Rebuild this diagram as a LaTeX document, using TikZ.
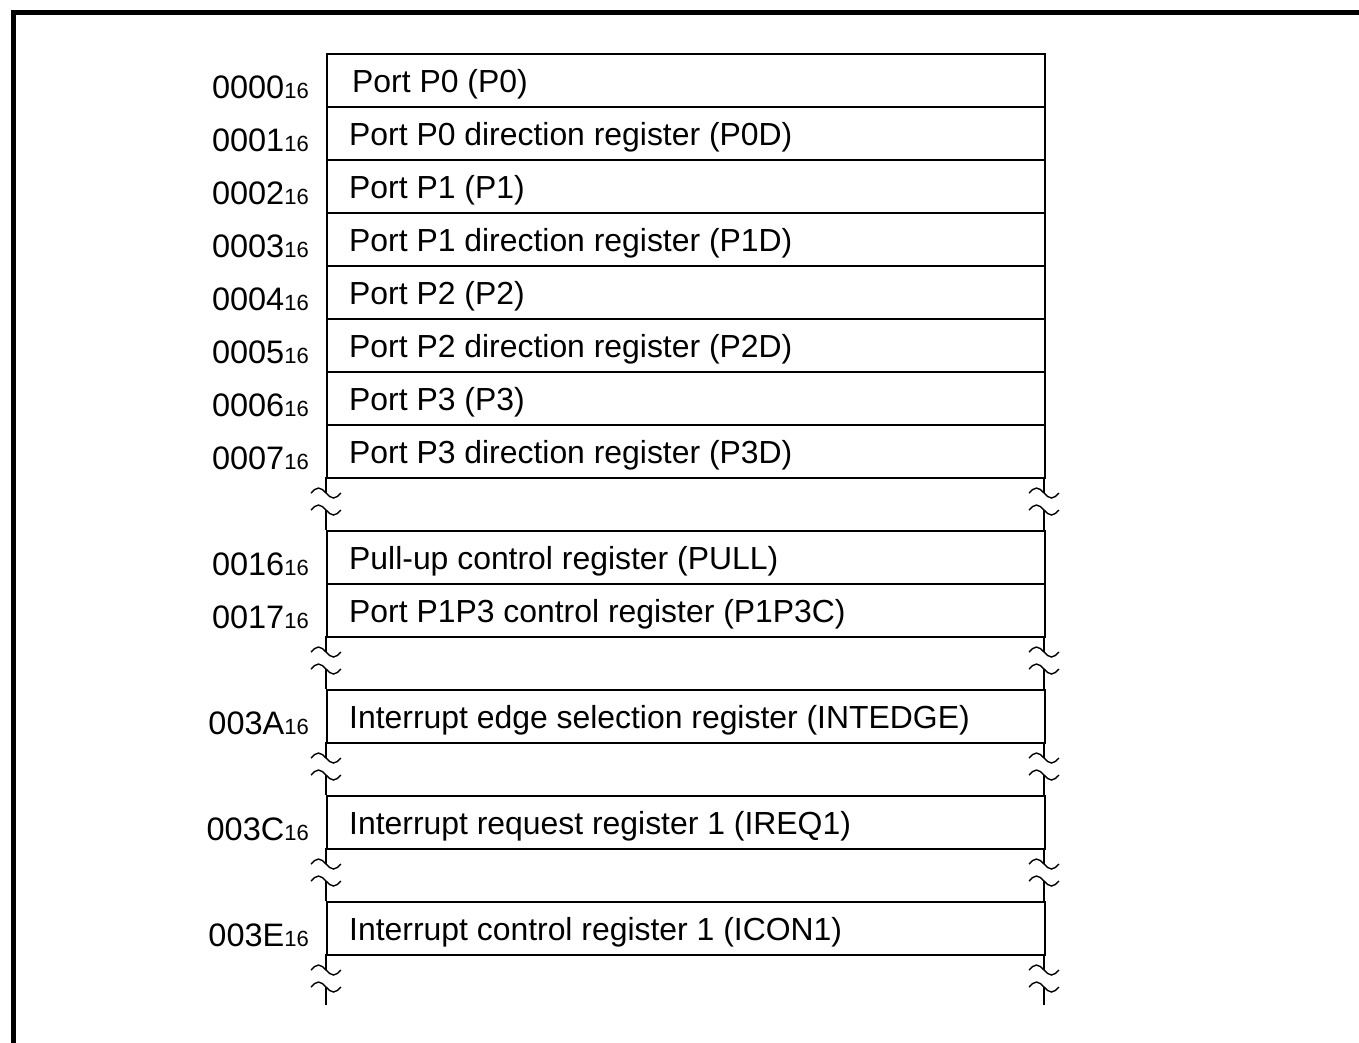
\documentclass[tikz,border=0pt]{standalone}
\usepackage{fontspec}
\setmainfont{Liberation Sans}
\newcommand\hexsub[1]{{\fontsize{22}{22}\selectfont #1}}
\newcommand\wavemark[2]{\draw[wav] (#1-15,#2) sin (#1-7.5,#2-5) cos (#1,#2) sin (#1+7.5,#2+5) cos (#1+15,#2);}
\begin{document}
\begin{tikzpicture}[x=1pt,y=-1pt,
  reg/.style={draw, line width=2.2pt, minimum width=718pt, minimum height=53pt, inner sep=0pt, anchor=north west},
  lbl/.style={anchor=base west, inner sep=0pt, font=\fontsize{31.9}{36}\selectfont},
  addr/.style={anchor=base east, inner sep=0pt, font=\fontsize{32.5}{36}\selectfont},
  brk/.style={line width=2.2pt},
  wav/.style={line width=1.4pt}]
\useasboundingbox (0,0) rectangle (1359,1042);
\draw[line width=5pt] (13.5,1045) -- (13.5,12.5) -- (1362,12.5);
\foreach \n/\t/\x/\a/\s in {
  r1/53/352/0000/Port P0 (P0),
  r2/106/349/0001/Port P0 direction register (P0D),
  r3/159/349/0002/Port P1 (P1),
  r4/212/349/0003/Port P1 direction register (P1D),
  r5/265/349/0004/Port P2 (P2),
  r6/318/349/0005/Port P2 direction register (P2D),
  r7/371/349/0006/Port P3 (P3),
  r8/424/349/0007/Port P3 direction register (P3D),
  r9/530/349/0016/Pull-up control register (PULL),
  r10/583/349/0017/Port P1P3 control register (P1P3C),
  r11/689/349/003A/Interrupt edge selection register (INTEDGE),
  r12/795/349/003C/Interrupt request register 1 (IREQ1),
  r13/901/349/003E/Interrupt control register 1 (ICON1)}{
  \node[reg] (\n) at (326,\t) {};
  \node[lbl] (\n-t) at (\x,\t+39) {\s};
  \node[addr] (\n-a) at (309,\t+45) {\a\hexsub{16}};
}
\foreach \g/\e in {477/530, 636/689, 742/795, 848/901, 954/1005}{
  \foreach \x in {326,1044}{
    \draw[brk] (\x,\g) -- (\x,\g+16);
    \draw[brk] (\x,\g+33) -- (\x,\e);
    \wavemark{\x}{\g+16}
    \wavemark{\x}{\g+33}
  }
}
\end{tikzpicture}
\end{document}
